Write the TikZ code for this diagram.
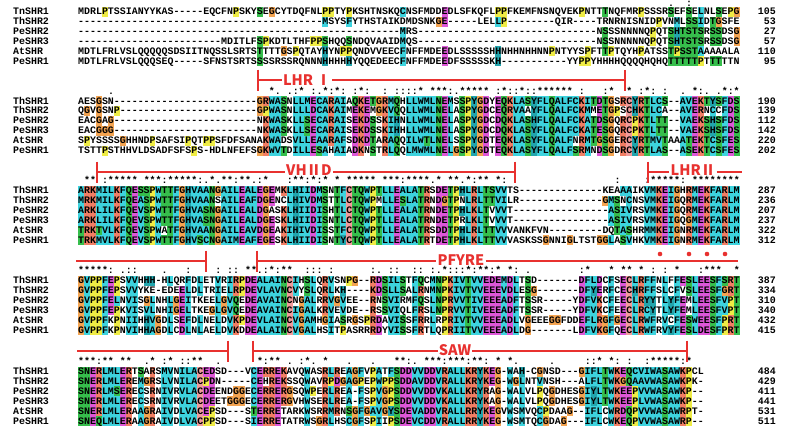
\documentclass[tikz,border=0pt]{standalone}
\usepackage{fontspec}
\setmonofont{Liberation Mono}
\newfontfamily\motiffont{Noto Sans CJK SC}
\usepackage{tikz}
\usetikzlibrary{positioning}
% ClustalX residue colours
\definecolor{hydro}{HTML}{3DD3DE}
\definecolor{arom}{HTML}{22A5AD}
\definecolor{posi}{HTML}{F17E64}
\definecolor{nega}{HTML}{DD57D8}
\definecolor{polar}{HTML}{36BE4C}
\definecolor{glyc}{HTML}{F4A451}
\definecolor{prol}{HTML}{EFEC45}
\definecolor{cyst}{HTML}{F29B9B}
\definecolor{motifred}{HTML}{E8312F}

\ExplSyntaxOn
\int_new:N \l_shr_cnt_int
\tl_new:N \l_shr_col_tl
\tl_new:N \l_shr_clr_tl
\tl_new:N \l_shr_sym_tl
\tl_new:N \l_shr_first_tl
\tl_new:N \g_shr_cons_tl
\bool_new:N \l_shr_hit_bool
\seq_new:N \g_shr_res_seq
\seq_new:N \g_shr_name_seq
\seq_new:N \g_shr_num_seq
\cs_new:Npn \gaprun #1 { \prg_replicate:nn {#1} {-} }
% how many residues of the current column are in the set #1
\cs_new_protected:Npn \shr_count:n #1
  {
    \int_zero:N \l_shr_cnt_int
    \tl_map_inline:Nn \l_shr_col_tl
      { \str_if_in:nnT {#1} {##1} { \int_incr:N \l_shr_cnt_int } }
  }
\cs_generate_variant:Nn \shr_count:n { x }
\cs_new_protected:Npn \shr_hit:nn #1#2
  {
    \shr_count:n {#1}
    \int_compare:nNnF { \l_shr_cnt_int } < {#2}
      { \bool_set_true:N \l_shr_hit_bool }
  }
% ClustalX colour of one residue
\cs_new_protected:Npn \shr_colour:n #1
  {
    \bool_set_false:N \l_shr_hit_bool
    \tl_clear:N \l_shr_clr_tl
    \tl_if_blank:nF {#1}
      {
        \str_if_in:nnT { AILMFWV } {#1}
          { \tl_set:Nn \l_shr_clr_tl { hydro } \shr_hit:nn { WLVIMAFCHP } { 4 } }
        \str_if_eq:nnT {#1} { C }
          {
            \tl_set:Nn \l_shr_clr_tl { hydro }
            \shr_hit:nn { WLVIMAFCHP } { 4 }
            \shr_count:n { C }
            \int_compare:nNnT { \l_shr_cnt_int } = { 6 }
              { \tl_set:Nn \l_shr_clr_tl { cyst } \bool_set_true:N \l_shr_hit_bool }
          }
        \str_if_in:nnT { KR } {#1}
          { \tl_set:Nn \l_shr_clr_tl { posi } \shr_hit:nn { KR } { 4 } \shr_hit:nn { KRQ } { 6 } }
        \str_if_eq:nnT {#1} { E }
          {
            \tl_set:Nn \l_shr_clr_tl { nega }
            \shr_hit:nn { KR } { 4 } \shr_hit:nn { QE } { 4 }
            \shr_hit:nn { ED } { 4 } \shr_hit:nn { EQD } { 6 }
          }
        \str_if_eq:nnT {#1} { D }
          {
            \tl_set:Nn \l_shr_clr_tl { nega }
            \shr_hit:nn { KR } { 4 } \shr_hit:nn { KRQ } { 6 } \shr_hit:nn { ED } { 4 }
          }
        \str_if_eq:nnT {#1} { N }
          { \tl_set:Nn \l_shr_clr_tl { polar } \shr_hit:nn { N } { 4 } \shr_hit:nn { ND } { 6 } }
        \str_if_eq:nnT {#1} { Q }
          {
            \tl_set:Nn \l_shr_clr_tl { polar }
            \shr_hit:nn { KR } { 4 } \shr_hit:nn { QE } { 4 } \shr_hit:nn { QEKR } { 6 }
          }
        \str_if_in:nnT { ST } {#1}
          {
            \tl_set:Nn \l_shr_clr_tl { polar }
            \shr_hit:nn { WLVIMAFCHP } { 4 } \shr_hit:nn { TS } { 4 }
          }
        \str_if_in:nnT { HY } {#1}
          {
            \tl_set:Nn \l_shr_clr_tl { arom }
            \shr_hit:nn { WLVIMAFCHP } { 4 } \shr_hit:nn { WYACPQFHILMV } { 6 }
          }
        \str_if_eq:nnT {#1} { G }
          { \tl_set:Nn \l_shr_clr_tl { glyc } \bool_set_true:N \l_shr_hit_bool }
        \str_if_eq:nnT {#1} { P }
          { \tl_set:Nn \l_shr_clr_tl { prol } \bool_set_true:N \l_shr_hit_bool }
      }
  }
\cs_generate_variant:Nn \shr_colour:n { x }
% Clustal consensus symbol of the current column
\cs_new_protected:Npn \shr_cons:
  {
    \tl_clear:N \l_shr_sym_tl
    \tl_if_in:NnF \l_shr_col_tl { - }
      {
        \shr_count:x { \tl_head:N \l_shr_col_tl }
        \int_compare:nNnTF { \l_shr_cnt_int } = { 6 }
          { \tl_set:Nn \l_shr_sym_tl { * } }
          {
            \clist_map_inline:nn { STA, NEQK, NHQK, NDEQ, QHRK, MILV, MILF, HY, FYW }
              {
                \shr_count:n {##1}
                \int_compare:nNnT { \l_shr_cnt_int } = { 6 }
                  { \tl_set:Nn \l_shr_sym_tl { : } \clist_map_break: }
              }
            \tl_if_empty:NT \l_shr_sym_tl
              {
                \clist_map_inline:nn
                  { CSA, ATV, SAG, STNK, STPA, SGND, SNDEQK, NDEQHK, NEQHRK, FVLIM, HFY }
                  {
                    \shr_count:n {##1}
                    \int_compare:nNnT { \l_shr_cnt_int } = { 6 }
                      { \tl_set:Nn \l_shr_sym_tl { . } \clist_map_break: }
                  }
              }
          }
      }
  }
\NewDocumentCommand \shrrow { m m m }
  {
    \seq_gput_right:Nn \g_shr_name_seq {#1}
    \seq_gput_right:Nx \g_shr_res_seq {#2}
    \seq_gput_right:Nn \g_shr_num_seq {#3}
  }
% #1 block letter, #2 centre y of its first row
\NewDocumentCommand \shrblock { m m }
  {
    \tl_gclear:N \g_shr_cons_tl
    \tl_set:Nx \l_shr_first_tl { \seq_item:Nn \g_shr_res_seq {1} }
    \int_step_inline:nn { \str_count:N \l_shr_first_tl }
      {
        \tl_clear:N \l_shr_col_tl
        \seq_map_inline:Nn \g_shr_res_seq
          { \tl_put_right:Nx \l_shr_col_tl { \str_item:nn {####1} {##1} } }
        \shr_cons:
        \tl_gput_right:Nx \g_shr_cons_tl { \exp_not:N \shrsym { \exp_not:V \l_shr_sym_tl } }
        \seq_map_indexed_inline:Nn \g_shr_res_seq
          {
            \shr_colour:x { \str_item:nn {####2} {##1} }
            \bool_if:NT \l_shr_hit_bool
              {
                \use:x
                  {
                    \exp_not:N \shrcell
                      { \fp_eval:n { \seqx + (##1 - 1) * \colw } }
                      { \fp_eval:n { #2 + (####1 - 1) * \rowh - \rowh / 2 } }
                      { \l_shr_clr_tl }
                  }
              }
          }
      }
    \seq_map_indexed_inline:Nn \g_shr_res_seq
      {
        \use:x
          {
            \exp_not:N \shrtext {#1##1}
              { \fp_eval:n { #2 + (##1 - 1) * \rowh } }
              { \seq_item:Nn \g_shr_name_seq {##1} }
              { \exp_not:n {##2} }
              { \seq_item:Nn \g_shr_num_seq {##1} }
          }
      }
    \use:x
      {
        \exp_not:N \shrcons {#1} { \fp_eval:n { max(#2 - \rowh, 3.2) } }
          { \exp_not:V \g_shr_cons_tl }
      }
    \seq_gclear:N \g_shr_res_seq
    \seq_gclear:N \g_shr_name_seq
    \seq_gclear:N \g_shr_num_seq
  }
\ExplSyntaxOff

\newcommand\shrcell[3]{\fill[#3] (#1,#2) rectangle ++(\colw,\rowh);}
\newcommand\shrtext[5]{%
  \node[restext] (name#1) at (\namex,#2+\basey) {#3};
  \node[restext] (res#1) at (\seqx,#2+\basey) {#4};
  \node[restext, anchor=base east] (num#1) at (\numx,#2+\basey) {#5};}
\newcommand\shrcons[3]{\node[restext] (cons#1) at (\seqx,#2+\basey) {#3};}
\newcommand\shrsym[1]{\makebox[\colw pt]{#1}}
\newcommand\motifbar[1]{\draw[motif] ([yshift=10.5pt]#1) -- ([yshift=-10.5pt]#1);}

\begin{document}
\begin{tikzpicture}[x=1pt, y=-1pt,
  restext/.style={anchor=base west, inner sep=0pt,
    font=\ttfamily\bfseries\fontsize{9.93}{10}\selectfont},
  motif/.style={draw=motifred, line width=1.4pt},
  motiflabel/.style={text=motifred, inner sep=1pt,
    font=\motiffont\bfseries\fontsize{14.5}{14.5}\selectfont}]
\def\seqx{78}
\def\namex{13}
\def\numx{776}
\def\colw{5.96}
\def\rowh{9.9}
\def\basey{2.9}
\fill[white] (0,0) rectangle (786,439);
% block 1
\shrrow{TnSHR1}{MDRLPTSSIANYYKAS\gaprun{5}EQCFNPSKYSEGCYTDQFNLPPTYPKSHTNSKQCNSFMDDEDLSFKQFLPPFKEMFNSNQVEKPNTTTNQFMRPSSSRSEFSELNLSEPG}{105}
\shrrow{ThSHR2}{\gaprun{41}MSYSFYTHSTAIKDMDSNKGE\gaprun{5}LELLP\gaprun{8}QIR\gaprun{4}TRNRNISNIDPVNMLSSIDTGSFE}{53}
\shrrow{PeSHR2}{\gaprun{54}MRS\gaprun{30}NSSSNNNNQPQTSHTSTSRSSDSG}{27}
\shrrow{PeSHR3}{\gaprun{24}MDITLFSPKDTLTHFPPSHQQSNDQVAAIDMQS\gaprun{30}NSSNNNNNQPQTSHTSTSRSSDSG}{57}
\shrrow{AtSHR}{MDTLFRLVSLQQQQQSDSIITNQSSLSRTSTTTTGSPQTAYHYNPPQNDVVEECFNFFMDEEDLSSSSSHHNHHNHHNNPNTYYSPFTTPTQYHPATSSTPSSTAAAAALA}{110}
\shrrow{PeSHR1}{MDTLFRLVSLQQQSEQ\gaprun{5}SFNSTSRTSSSSRSSRQNNNHHHHHYQQEDEECFNFFMDEEDFSSSSSKH\gaprun{11}YYPPYHHHHQQQQHQHQTTTTTPTTTTTN}{95}
\shrblock{a}{11.7}
% block 2
\shrrow{ThSHR1}{AESGSN\gaprun{24}GRWASNLLMECARAIAQKETGRMQHLLWMLNEMSSPYGDYEQKLASYFLQALFCKITDTGSRCYRTLCS--AVEKTYSFDS}{190}
\shrrow{ThSHR2}{QGVGSNP\gaprun{23}GPWASNLLLDCAKAIMEKEMGKVQQLLWMLNELASPYGDCEQRVAAYFLQALFCKMMETGPSCHKTLCA--AVERNCCFDS}{139}
\shrrow{PeSHR2}{EACGAG\gaprun{24}NKWASKLLSECARAISEKDSSKIHNLLWMLNELASPYGDCDQKLASHFLQALFCKATDSGQRCPKTLTT--VAEKSHSFDS}{112}
\shrrow{PeSHR3}{EACGGG\gaprun{24}NKWASKLLSECARAISEKDSSKIHHLLWMLNELASPYGDCDQKLASYFLQALFCKATESGQRCPKTLTT--VAEKSHSFDS}{142}
\shrrow{AtSHR}{SPYSSSSGHHNDPSAFSIPQTPPSFDFSANAKWADSVLLEAARAFSDKDTARAQQILWTLNELSSPYGDTEQKLASYFLQALFNRMTGSGERCYRTMVTAAATEKTCSFES}{220}
\shrrow{PeSHR1}{TSTTPSTHHVLDSADFSFSPS-HDLNFEFSGKWVTDILLESAHAIADKNSTRLQQLMWMLNELGSPYGDTEQKLASYFLQALFSRMNDSGDRCYRTLAS--ASEKTCSFES}{202}
\shrblock{b}{101.1}
% block 3
\shrrow{ThSHR1}{ARKMILKFQESSPWTTFGHVAANGAILEALEGEMKLHIIDMSNTFCTQWPTLLEALATRSDETPHLRLTSVVTS\gaprun{14}KEAAAIKVMKEIGHRMEKFARLM}{287}
\shrrow{ThSHR2}{MRKMILKFQEASPWTTFGHVAANSAILEAFDGENCLHIVDMSTTLCTQWPMLLESLATRNDGTPNLRLTTVILR\gaprun{14}GMSNCNSVMKEIGQRMEKFARLM}{236}
\shrrow{PeSHR2}{ARKLILKFQEVSPWTTFGHVASNGAILEALDGASKLHIIDISHTLCTQWPTLLEALATRNDETPHLKLTVVVT\gaprun{16}ASIVRSVMKEIGQRMEKFARLM}{207}
\shrrow{PeSHR3}{ARKLILKFQEVSPWTTFGHVASNGAILEALDGESKLHIIDISNTLCTQWPTLLEALATRNDETPRLKLTVVVT\gaprun{16}ASIVRSVMKEIGQGMEKFARLM}{237}
\shrrow{AtSHR}{TRKTVLKFQEVSPWATFGHVAANGAILEAVDGEAKIHIVDISSTFCTQWPTLLEALATRSDDTPHLRLTTVVVANKFVN\gaprun{9}DQTASHRMMKEIGNRMEKFARLM}{322}
\shrrow{PeSHR1}{TRKMVLKFQEVSPWTTFGHVSCNGAIMEAFEGESKLHIIDISNTYCTQWPTLLEALATRTDETPHLKLTTVVVASKSSGNNIGLTSTGGLASVHKVMKEIGNRMEKFARLM}{312}
\shrblock{c}{190.9}
% block 4
\shrrow{ThSHR1}{GVPPFEPSVVHHH-HLQRFDLETVRIRPDEALAINCIHSLQRVSNPG--RDSILSTFQCMNPKIVTVVEDEMDLTSD\gaprun{7}DFLDCFSECLRFFNLFFESLEESFSRT}{387}
\shrrow{ThSHR2}{GVPPFEPSVVYKE-EDEELDLTRIELRPDEVLAVNCVYSLQRLKH----KDSLLSALRNMNPKIVTVVEEEVDLESG\gaprun{7}DFYERFCECHRFFSLCFVSLEESFGRT}{334}
\shrrow{PeSHR2}{GVPPFELNVISGLNHLGEITKEELGVQEDEAVAINCNGALRRVGVEE--RNSVIRMFQSLNPRVVTIVEEEADFTSSR\gaprun{5}YDFVKCFEECLRYYTLYFEMLEESFVPT}{310}
\shrrow{PeSHR3}{GVPPFEPKVISVLNHIGELTKEGLGVQEDEAVAINCIGALKRVEVDE--RSSVIQLFRSLNPRVVTIVEEEADFTSSR\gaprun{5}YDFVKCFEECLRCYTLYFEMLEESFVPT}{340}
\shrrow{AtSHR}{GVPPFKPNIIHHVGDLSEFDLNELDVKPDEVLAINCVGAMHGIASRGSPRDAVISSFRRLRPRIVTVVEEEADLVGEEEGGFDDEFLRGFGECLRWFRVCFESWEESFPRT}{432}
\shrrow{PeSHR1}{GVPPFKPNVIHHAGDLCDLNLAELDVKDDEALAINCVGALHSITPASRRRDYVISSFRTLQPRIITVVEEEADLDG\gaprun{7}LDFVKGFQECLRWFRVYFESLDESFPRT}{415}
\shrblock{d}{280.8}
% block 5
\shrrow{ThSHR1}{SNERLMLERTSARSMVNILACEDSD---VCERREKAVQWASRLREAGFVPATFSDDVVDDVRALLKRYKEG-WAH-CGNSD---GIFLTWKEQCVIWASAWKPCL}{484}
\shrrow{ThSHR2}{SNERLMLEREMGRSLVNILACPDN-----CEHREKSSQWAVRPDGAGPEPWPPSDDAVDDVRALLKRYKEG-WGLNTVNSH---ALFLTWKGQAAVWASAWKPK-}{429}
\shrrow{PeSHR2}{SNERLMSERECSRNIVRVLACDEENDGGECERRERGSQWPERLREA-FSPVGPSDDVVDDVKALLKRYRAG-WALVLPQGDHESGIYLTWKEEPVVWASAWKP--}{411}
\shrrow{PeSHR3}{SNERLMLERECSRNIVRVLACDEETGGGECERRERGVHWSERLREA-FSPVGPSDDVVDDVKALLKRYKAG-WALVLPQGDHESGIYLTWKEEPLVWASAWKP--}{441}
\shrrow{AtSHR}{SNERLMLERAAGRAIVDLVACEPSD---STERRETARKWSRRMRNSGFGAVGYSDEVADDVRALLRRYKEGVWSMVQCPDAAG--IFLCWRDQPVVWASAWRPT-}{531}
\shrrow{PeSHR1}{SNEQLMLERAAGRAIVDLVACPPSD---SIERRETATRWSGRLHSCGFSPIIPSDEVCDDVRALLRRYKEG-WSMTQCGDAG---IFLCWKEQPVVWASAWRP--}{511}
\shrblock{e}{371.6}
% motif brackets
\coordinate (lhrIa) at (258,80);
\coordinate (lhrIb) at (625,80);
\node[motiflabel] (lhrI) at (307,80) {LHR Ⅰ};
\draw[motif] (lhrIa) -- (lhrI.west) (lhrI.east) -- (lhrIb);
\motifbar{lhrIa}
\motifbar{lhrIb}
\coordinate (vhiida) at (97,172);
\coordinate (vhiidb) at (515,172);
\node[motiflabel] (vhiid) at (309,170.5) {VHⅡD};
\draw[motif] (vhiida) -- (vhiid.west |- vhiida) (vhiid.east |- vhiida) -- (vhiidb);
\motifbar{vhiida}
\motifbar{vhiidb}
\coordinate (lhrIIa) at (648,172);
\coordinate (lhrIIb) at (742,172);
\node[motiflabel] (lhrII) at (693,170.5) {LHRⅡ};
\draw[motif] (lhrIIa) -- (lhrII.west |- lhrIIa) (lhrII.east |- lhrIIa) -- (lhrIIb);
\motifbar{lhrIIa}
\coordinate (lhrIIc) at (76,261);
\coordinate (lhrIId) at (206,261);
\draw[motif] (lhrIIc) -- (lhrIId);
\motifbar{lhrIId}
\coordinate (pfyrea) at (257,261);
\coordinate (pfyreb) at (738,261);
\node[motiflabel] (pfyre) at (461,260) {PFYRE};
\draw[motif] (pfyrea) -- (pfyre.west |- pfyrea) (pfyre.east |- pfyrea) -- (pfyreb);
\motifbar{pfyrea}
\foreach \dx in {660,689,707,725}
  \fill[motifred] (\dx,254) circle (2.3);
\coordinate (pfyrec) at (77,351);
\coordinate (pfyred) at (228,351);
\draw[motif] (pfyrec) -- (pfyred);
\motifbar{pfyred}
\coordinate (sawa) at (253,351);
\coordinate (sawb) at (687,351);
\node[motiflabel] (saw) at (455,350) {SAW};
\draw[motif] (sawa) -- (saw.west |- sawa) (saw.east |- sawa) -- (sawb);
\motifbar{sawa}
\motifbar{sawb}
\end{tikzpicture}
\end{document}
